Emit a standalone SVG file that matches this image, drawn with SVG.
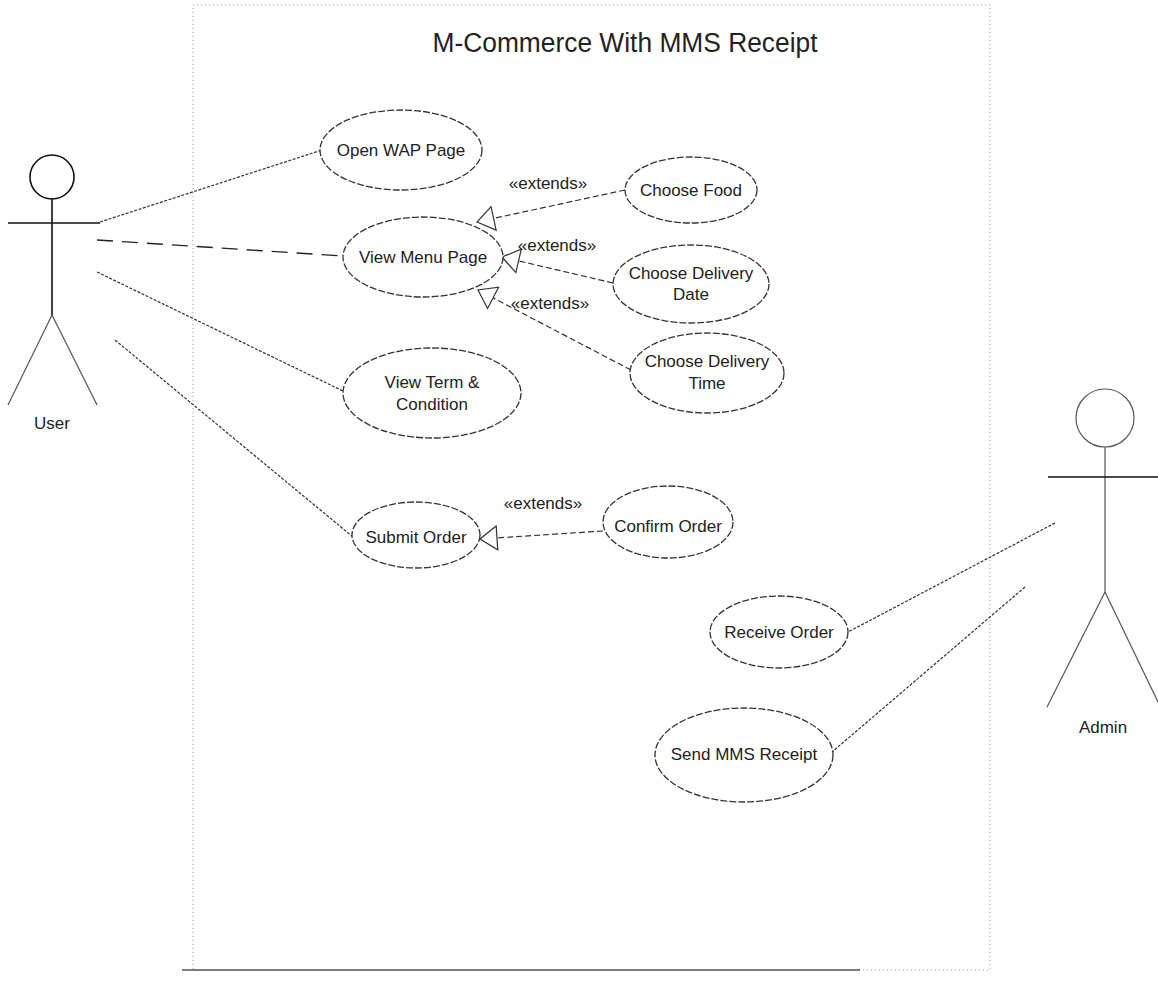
<svg xmlns="http://www.w3.org/2000/svg" width="1158" height="982" viewBox="0 0 1158 982">
<style>
text{font-family:"Liberation Sans",Arial,sans-serif;fill:#222;}
.lbl{font-size:17px;text-anchor:middle;dominant-baseline:central;}
.title{font-size:27px;text-anchor:middle;}
.uc{fill:#fff;stroke:#333;stroke-width:1.3;stroke-dasharray:7 2;}
.actor{fill:none;stroke:#111;stroke-width:1.6;}
.actor2{fill:none;stroke:#555;stroke-width:1.2;}
.assoc{fill:none;stroke:#333;stroke-width:1.2;stroke-dasharray:3 1.5;}
.assoc-long{fill:none;stroke:#222;stroke-width:1.4;stroke-dasharray:16 9;}
.ext{fill:none;stroke:#333;stroke-width:1.2;stroke-dasharray:6 3;marker-end:url(#tri);}
.boundary{fill:none;stroke:#999;stroke-width:1;stroke-dasharray:1 3;}
</style>
<defs>
<marker id="tri" viewBox="0 0 19 26" refX="18" refY="13" markerWidth="19" markerHeight="26" markerUnits="userSpaceOnUse" orient="auto">
<path d="M18,13 L1,1 L1,25 Z" fill="#fff" stroke="#333" stroke-width="1.2"/>
</marker>
</defs>
<rect width="1158" height="982" fill="#fff"/>
<g id="system-boundary">
<rect class="boundary" x="193" y="5" width="797" height="965"/>
<line x1="182" y1="970" x2="860" y2="970" stroke="#555" stroke-width="1.3"/>
<text class="title" x="625" y="52" textLength="385" lengthAdjust="spacingAndGlyphs">M-Commerce With MMS Receipt</text>
</g>
<g id="connectors">
<line class="assoc" x1="100" y1="222" x2="322" y2="150"/>
<line class="assoc-long" x1="97" y1="240" x2="343" y2="256"/>
<line class="assoc" x1="97" y1="272" x2="345" y2="392"/>
<line class="assoc" x1="115" y1="340" x2="353" y2="537"/>
<line class="ext" x1="625" y1="190" x2="477" y2="222"/>
<line class="ext" x1="613" y1="283" x2="502" y2="257"/>
<line class="ext" x1="631" y1="370" x2="478" y2="290"/>
<line class="ext" x1="603" y1="531" x2="480" y2="539"/>
<line class="assoc" x1="1055" y1="523" x2="848" y2="632"/>
<line class="assoc" x1="1025" y1="587" x2="832" y2="752"/>
<text class="lbl" x="548" y="183">«extends»</text>
<text class="lbl" x="557" y="245">«extends»</text>
<text class="lbl" x="550" y="303">«extends»</text>
<text class="lbl" x="543" y="503">«extends»</text>
</g>
<g id="actor-user">
<circle class="actor" cx="52" cy="177" r="22"/>
<line class="actor" x1="52" y1="199" x2="52" y2="315"/>
<line class="actor" x1="8" y1="223" x2="100" y2="223"/>
<line class="actor2" x1="52" y1="315" x2="8" y2="405"/>
<line class="actor2" x1="52" y1="315" x2="97" y2="405"/>
<text class="lbl" x="52" y="423">User</text>
</g>
<g id="actor-admin">
<circle class="actor2" cx="1105" cy="418" r="29"/>
<line class="actor2" x1="1105" y1="447" x2="1105" y2="592"/>
<line class="actor" x1="1048" y1="477" x2="1160" y2="477"/>
<line class="actor2" x1="1105" y1="592" x2="1047" y2="707"/>
<line class="actor2" x1="1105" y1="592" x2="1158" y2="702"/>
<text class="lbl" x="1103" y="727">Admin</text>
</g>
<g id="uc-open-wap">
<ellipse class="uc" cx="401" cy="150" rx="81" ry="40"/>
<text class="lbl" x="401" y="150">Open WAP Page</text>
</g>
<g id="uc-view-menu">
<ellipse class="uc" cx="423" cy="257" rx="80" ry="40"/>
<text class="lbl" x="423" y="257">View Menu Page</text>
</g>
<g id="uc-choose-food">
<ellipse class="uc" cx="691" cy="190" rx="66" ry="33"/>
<text class="lbl" x="691" y="190">Choose Food</text>
</g>
<g id="uc-delivery-date">
<ellipse class="uc" cx="691" cy="284" rx="78" ry="39"/>
<text class="lbl" x="691" y="273">Choose Delivery</text>
<text class="lbl" x="691" y="294">Date</text>
</g>
<g id="uc-delivery-time">
<ellipse class="uc" cx="707" cy="373" rx="77" ry="40"/>
<text class="lbl" x="707" y="361">Choose Delivery</text>
<text class="lbl" x="707" y="383">Time</text>
</g>
<g id="uc-view-term">
<ellipse class="uc" cx="432" cy="393" rx="89" ry="45"/>
<text class="lbl" x="432" y="382">View Term &amp;</text>
<text class="lbl" x="432" y="404">Condition</text>
</g>
<g id="uc-submit-order">
<ellipse class="uc" cx="416" cy="535" rx="64" ry="33"/>
<text class="lbl" x="416" y="537">Submit Order</text>
</g>
<g id="uc-confirm-order">
<ellipse class="uc" cx="668" cy="522" rx="65" ry="36"/>
<text class="lbl" x="668" y="526">Confirm Order</text>
</g>
<g id="uc-receive-order">
<ellipse class="uc" cx="779" cy="632" rx="69" ry="36"/>
<text class="lbl" x="779" y="632">Receive Order</text>
</g>
<g id="uc-send-mms">
<ellipse class="uc" cx="744" cy="755" rx="89" ry="47"/>
<text class="lbl" x="744" y="754">Send MMS Receipt</text>
</g>
</svg>
